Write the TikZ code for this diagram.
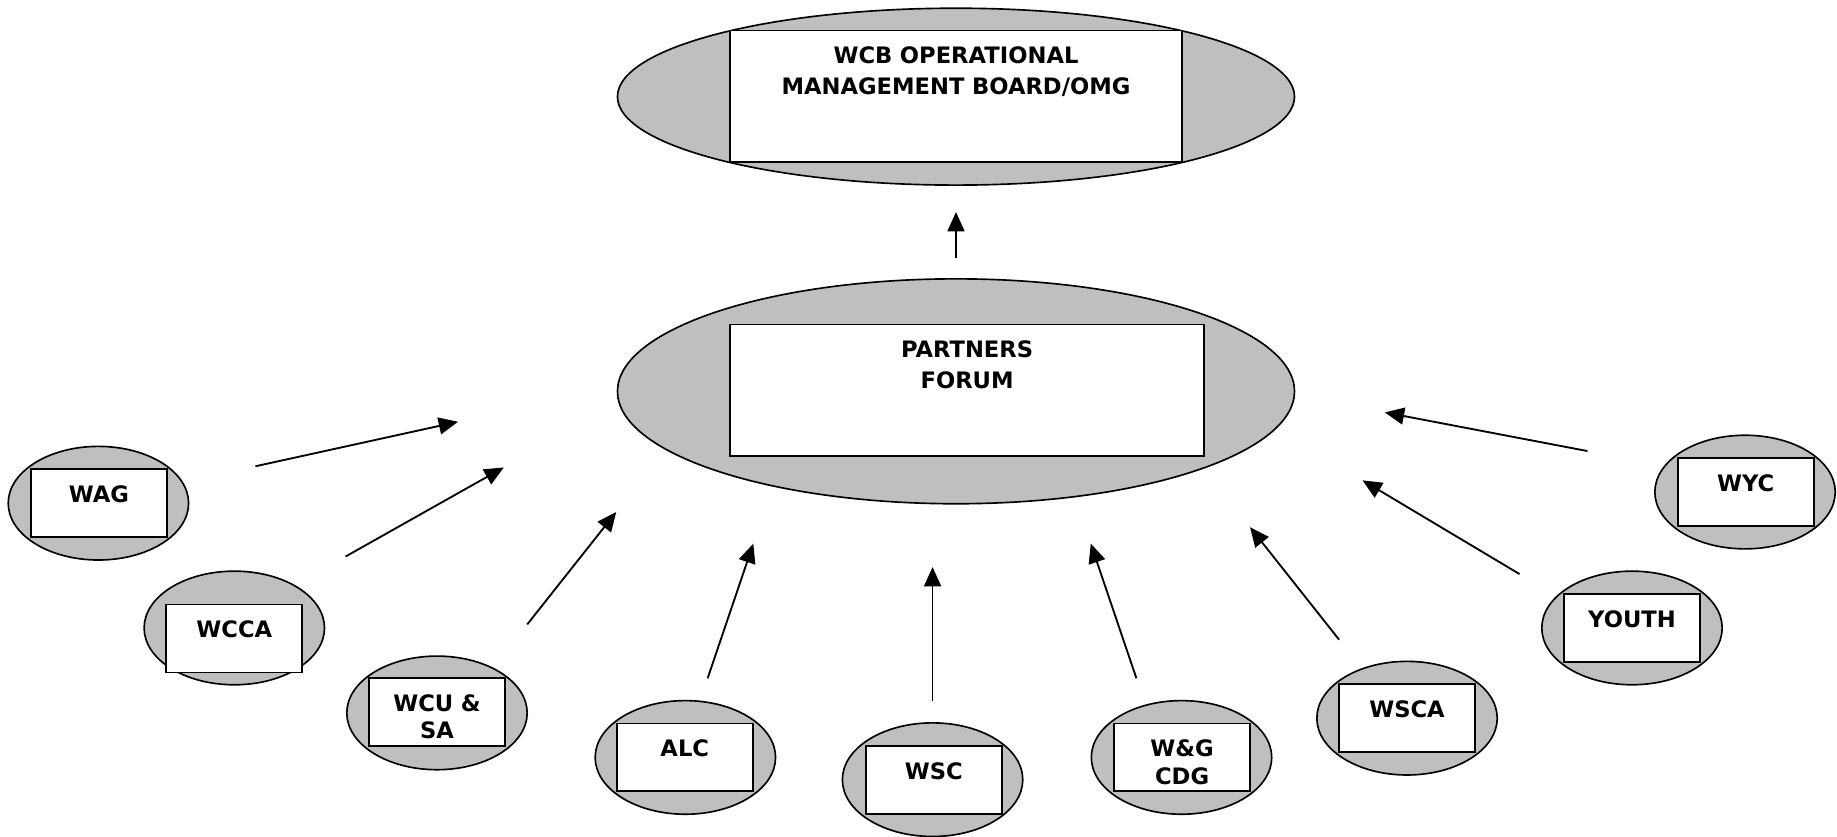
\documentclass[tikz,border=0pt]{standalone}
\usepackage{fontspec}
\setmainfont{DejaVu Sans}
\usetikzlibrary{shapes.geometric,arrows.meta,positioning}
\definecolor{ovalgray}{gray}{0.75}

\begin{document}
\begin{tikzpicture}[
    x=0.02cm, y=-0.02cm,
    oval/.style={ellipse, draw, fill=ovalgray, line width=0.8pt, inner sep=0pt, minimum width=3.08cm, minimum height=1.94cm},
    bigoval/.style={oval, minimum width=11.56cm},
    unit/.style={rectangle, draw, fill=white, line width=0.9pt, inner sep=0pt, text width=2.32cm, align=center, text height=0.57cm, text depth=0.59cm, font=\fontsize{11}{13.2}\selectfont\bfseries},
    board/.style={unit, text width=7.72cm, text depth=1.67cm, font=\fontsize{11}{14.8}\selectfont\bfseries},
    arr/.style={-{Triangle[length=0.33cm,width=0.29cm]}, line width=0.9pt}
]
    \useasboundingbox (0,0) rectangle (1568,714);

    % Board
    \node[bigoval, minimum height=3.02cm] (omgoval) at (816,82.5) {};
    \node[board] (omg) at (816,82) {WCB OPERATIONAL\\MANAGEMENT BOARD/OMG};

    % Forum
    \node[bigoval, minimum height=3.84cm] (pfoval) at (816,334) {};
    \node[board, text width=8.1cm] (pf) at (825.5,333) {PARTNERS\\FORUM};

    % Member groups
    \node[oval] (wagoval) at (84,429.5) {};
    \node[unit] (wag) at (84.5,429) {WAG};

    \node[oval] (wccaoval) at (200,536) {};
    \node[unit] (wcca) at (200,545) {WCCA};

    \node[oval] (wcuoval) at (373,608.5) {};
    \node[unit] (wcu) at (373,608) {WCU \&\\SA};

    \node[oval] (alcoval) at (585,646.5) {};
    \node[unit] (alc) at (584.5,646.5) {ALC};

    \node[oval] (wscoval) at (796,665.5) {};
    \node[unit] (wsc) at (797,666) {WSC};

    \node[oval] (wgcoval) at (1008.5,646.5) {};
    \node[unit] (wgc) at (1009,646.5) {W\&G\\CDG};

    \node[oval] (wscaoval) at (1201,613) {};
    \node[unit] (wsca) at (1201,613) {WSCA};

    \node[oval] (youthoval) at (1393,536) {};
    \node[unit] (youth) at (1393,536) {YOUTH};

    \node[oval] (wycoval) at (1489.5,420) {};
    \node[unit] (wyc) at (1490,420) {WYC};

    % Arrow ends
    \coordinate (pfup) at (816,220);
    \coordinate (omgin) at (816,181);
    \coordinate (wagout) at (218,398);
    \coordinate (wagin) at (391,360);
    \coordinate (wccaout) at (295,475);
    \coordinate (wccain) at (430,399);
    \coordinate (wcuout) at (450,533);
    \coordinate (wcuin) at (526,437);
    \coordinate (alcout) at (604,579);
    \coordinate (alcin) at (643,464);
    \coordinate (wscout) at (796,598);
    \coordinate (wscin) at (796,484);
    \coordinate (wgcout) at (970,579);
    \coordinate (wgcin) at (931,464);
    \coordinate (wscaout) at (1143,546);
    \coordinate (wscain) at (1067,450);
    \coordinate (youthout) at (1297,490);
    \coordinate (youthin) at (1163,410);
    \coordinate (wycout) at (1355,385);
    \coordinate (wycin) at (1182,352);

    % Arrows
    \draw[arr] (pfup) -- (omgin);
    \draw[arr] (wagout) -- (wagin);
    \draw[arr] (wccaout) -- (wccain);
    \draw[arr] (wcuout) -- (wcuin);
    \draw[arr] (alcout) -- (alcin);
    \draw[arr] (wscout) -- (wscin);
    \draw[arr] (wgcout) -- (wgcin);
    \draw[arr] (wscaout) -- (wscain);
    \draw[arr] (youthout) -- (youthin);
    \draw[arr] (wycout) -- (wycin);
\end{tikzpicture}
\end{document}
